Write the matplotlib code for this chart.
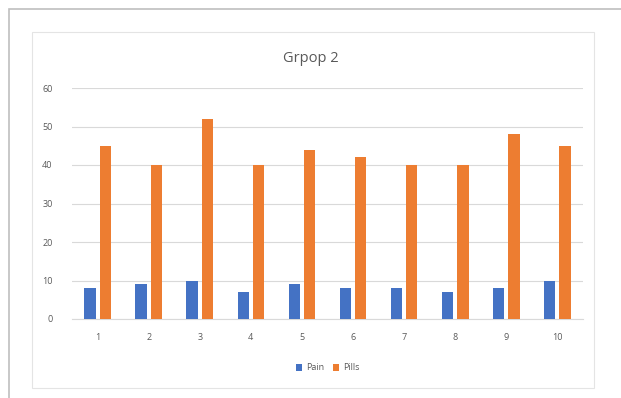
import matplotlib
matplotlib.use("Agg")
import matplotlib.pyplot as plt
from matplotlib.patches import Rectangle
import numpy as np

categories = ["1", "2", "3", "4", "5", "6", "7", "8", "9", "10"]
pain = [8, 9, 10, 7, 9, 8, 8, 7, 8, 10]
pills = [45, 40, 52, 40, 44, 42, 40, 40, 48, 45]
series_names = ["Pain", "Pills"]
title = "Grpop 2"

plt.rcParams["font.family"] = ["Open Sans", "DejaVu Sans"]
text_gray = "#595959"

W, H = 621, 398
fig = plt.figure(figsize=(W / 100, H / 100), dpi=100)
fig.patch.set_facecolor("white")


def px_rect(x0, y0, x1, y1, **kw):
    """Rectangle given in pixel coordinates measured from the top-left corner."""
    return Rectangle((x0 / W, 1 - y1 / H), (x1 - x0) / W, (y1 - y0) / H,
                     transform=fig.transFigure, fill=False, **kw)


# outer sheet frame (runs off the right and bottom edges) and chart frame
fig.patches.append(px_rect(9, 9, W + 20, H + 20, edgecolor="#BFBFBF", linewidth=1.2))
fig.patches.append(px_rect(32, 32, 594, 388, edgecolor="#E4E4E4", linewidth=0.8))

ax = fig.add_axes([72 / W, 1 - 319 / H, (583 - 72) / W, (319 - 88) / H])
x = np.arange(1, len(categories) + 1)
w = 0.22
gap = 0.04
ax.bar(x - w / 2 - gap, pain, width=w, color="#4472C4", label=series_names[0], zorder=3)
ax.bar(x + w / 2 + gap, pills, width=w, color="#ED7D31", label=series_names[1], zorder=3)

ax.set_xlim(0.5, 10.5)
ax.set_ylim(0, 60)
ax.set_yticks(range(0, 61, 10))
ax.set_xticks(x)
ax.set_xticklabels(categories)
ax.grid(axis="y", color="#D9D9D9", linewidth=0.8, zorder=0)
for s in ax.spines.values():
    s.set_visible(False)
ax.spines["bottom"].set_visible(True)
ax.spines["bottom"].set_color("#D9D9D9")
ax.tick_params(axis="both", length=0, labelsize=6.5, colors=text_gray, pad=10)
ax.tick_params(axis="y", pad=14)

fig.text(0.5, 1 - 58 / H, title, ha="center", va="center", fontsize=10.5, color=text_gray)
ax.legend(loc="center", bbox_to_anchor=(0.5, (319 - 368) / (319 - 88)), ncol=2,
          frameon=False, fontsize=6.5, labelcolor=text_gray, handlelength=0.7,
          handleheight=0.7, handletextpad=0.4, columnspacing=1.0)

fig.savefig("out.png", dpi=100, facecolor="white")
